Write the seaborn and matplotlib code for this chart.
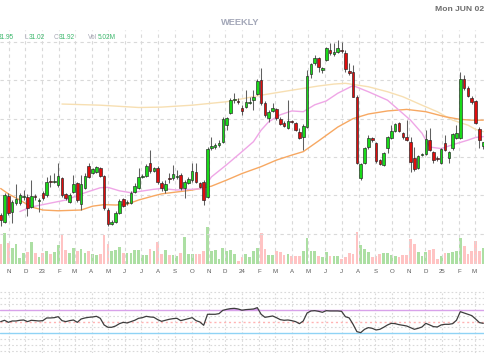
import numpy as np
import pandas as pd
import matplotlib
matplotlib.use("Agg")
import matplotlib.pyplot as plt
import seaborn as sns

# ---------------- data ----------------
start_date = pd.Timestamp("2022-10-17")  # first weekly candle (Monday)

opens = [22.45, 21.58, 24.92, 22.88, 24.05, 23.96, 24.83, 24.83, 23.53, 24.88,
         24.22, 25.35, 25.05, 26.83, 26.74, 26.31, 27.26, 25.14, 24.18, 25.48,
         26.57, 23.88, 26.00, 28.83, 27.96, 28.09, 28.52, 27.52, 23.10, 21.23,
         21.53, 22.75, 24.49, 24.01, 24.05, 25.40, 26.00, 27.44, 27.52, 29.26,
         28.22, 28.61, 26.66, 25.70, 27.31, 27.31, 27.39, 27.65, 25.92, 26.66,
         27.00, 28.00, 26.57, 26.79, 24.83, 31.13, 31.26, 31.52, 31.99, 34.16,
         35.77, 37.38, 37.24, 36.42, 36.55, 37.03, 37.42, 38.16, 40.02, 37.07,
         35.03, 35.99, 36.20, 34.94, 34.47, 33.73, 34.64, 34.38, 33.30, 32.64,
         33.95, 40.76, 42.19, 42.84, 41.32, 42.63, 43.93, 43.41, 43.67, 43.89,
         43.58, 41.19, 41.11, 37.85, 27.22, 29.26, 31.26, 32.43, 31.78, 29.61,
         28.96, 31.13, 32.43, 33.43, 34.38, 33.08, 32.64, 31.99, 29.82, 28.61,
         30.26, 30.39, 32.21, 30.60, 29.91, 29.26, 31.78, 29.82, 31.13, 32.43,
         32.43, 40.11, 39.02, 37.72, 37.29, 33.60, 31.50]
highs = [22.66, 25.35, 25.27, 24.40, 26.48, 25.27, 25.70, 25.18, 27.00, 25.18,
         24.62, 25.61, 27.44, 27.65, 27.87, 29.26, 27.44, 25.35, 25.27, 27.65,
         26.79, 27.65, 27.87, 29.26, 28.56, 28.83, 28.74, 27.65, 23.31, 21.79,
         23.01, 24.49, 24.66, 24.40, 25.61, 26.57, 28.52, 27.78, 29.09, 30.91,
         28.74, 28.83, 26.83, 27.00, 27.87, 28.96, 28.30, 27.87, 27.00, 27.35,
         29.17, 29.17, 26.79, 27.00, 31.26, 32.64, 31.78, 32.21, 35.16, 35.25,
         37.64, 38.29, 37.64, 36.77, 38.72, 37.85, 38.72, 40.11, 41.54, 37.33,
         36.12, 36.98, 36.42, 35.16, 34.64, 37.42, 34.81, 34.55, 33.73, 34.29,
         41.32, 42.28, 43.28, 42.97, 41.76, 44.36, 44.84, 44.84, 45.23, 45.01,
         43.93, 42.19, 41.98, 38.07, 29.17, 31.34, 32.86, 32.64, 31.99, 29.78,
         30.65, 32.73, 34.16, 34.38, 34.60, 33.30, 34.81, 32.64, 31.34, 30.30,
         30.56, 33.51, 33.73, 30.82, 30.13, 31.17, 32.86, 30.82, 33.17, 34.16,
         41.11, 40.67, 39.24, 37.94, 37.42, 33.95, 31.95]
lows = [21.01, 21.36, 22.45, 21.36, 23.75, 23.75, 24.40, 22.32, 23.31, 24.40,
        22.88, 24.40, 24.83, 26.13, 26.57, 26.13, 24.83, 24.40, 23.96, 25.27,
        24.18, 23.10, 25.79, 27.26, 27.78, 27.87, 27.35, 23.10, 21.01, 21.10,
        21.36, 22.58, 23.53, 23.75, 23.88, 25.27, 25.87, 27.26, 27.35, 27.96,
        28.04, 26.48, 25.61, 25.27, 26.57, 27.00, 27.18, 25.70, 24.62, 26.48,
        26.79, 26.57, 25.92, 23.75, 24.62, 30.91, 31.08, 31.34, 31.86, 33.51,
        35.60, 36.98, 36.90, 35.47, 36.33, 36.90, 36.12, 38.03, 36.77, 35.25,
        34.60, 35.86, 34.81, 34.12, 33.86, 33.60, 34.38, 33.34, 32.30, 30.91,
        33.77, 40.24, 41.98, 41.11, 40.89, 42.45, 43.28, 43.15, 43.49, 43.49,
        41.11, 40.67, 37.77, 29.09, 27.00, 29.09, 31.08, 31.95, 29.17, 28.96,
        28.83, 30.47, 32.30, 33.25, 33.25, 32.38, 32.04, 28.09, 28.22, 28.48,
        30.13, 30.21, 30.73, 29.17, 29.52, 29.09, 30.73, 29.26, 30.91, 32.30,
        32.30, 38.72, 37.77, 36.90, 34.29, 31.13, 31.02]
closes = [21.79, 25.05, 22.66, 24.18, 24.49, 25.05, 24.96, 23.31, 24.92, 24.75,
          24.40, 24.62, 26.79, 26.70, 26.87, 27.52, 25.01, 24.62, 25.05, 26.48,
          24.40, 26.48, 27.52, 27.44, 28.39, 28.65, 27.57, 23.31, 21.23, 21.58,
          22.75, 24.31, 23.66, 24.14, 25.35, 26.26, 27.44, 27.57, 28.83, 28.17,
          28.52, 26.79, 25.92, 26.48, 27.18, 27.74, 27.52, 25.92, 26.79, 27.09,
          28.17, 26.79, 26.13, 24.40, 31.00, 31.43, 31.56, 31.78, 34.90, 35.03,
          37.42, 37.51, 37.11, 36.03, 37.20, 37.20, 37.77, 39.89, 36.98, 35.47,
          35.90, 36.42, 35.03, 34.29, 34.03, 34.73, 34.51, 33.51, 32.43, 34.03,
          40.54, 42.06, 42.84, 41.76, 41.54, 44.15, 43.54, 43.71, 44.19, 43.75,
          41.41, 40.89, 37.85, 29.17, 29.04, 31.13, 32.43, 32.21, 29.52, 29.09,
          30.47, 32.56, 33.43, 34.25, 33.43, 32.56, 32.21, 29.30, 28.39, 30.13,
          30.39, 32.30, 30.91, 29.61, 29.78, 31.00, 30.91, 30.60, 32.95, 33.08,
          40.11, 38.94, 37.94, 37.11, 34.47, 32.21, 31.92]
volumes_m = [6.0, 9.3, 6.3, 4.8, 6.0, 1.8, 3.2, 3.6, 6.6, 3.2,
             2.0, 3.2, 3.9, 3.1, 3.7, 5.7, 8.8, 4.1, 3.4, 4.9,
             3.8, 4.5, 3.2, 4.0, 2.9, 2.7, 2.9, 8.8, 6.1, 4.0,
             4.1, 5.1, 3.4, 3.4, 3.2, 4.2, 4.2, 2.7, 2.8, 4.4,
             3.8, 6.5, 3.1, 4.2, 2.8, 2.7, 2.5, 3.4, 8.0, 2.9,
             2.9, 3.0, 3.0, 3.9, 11.0, 4.0, 4.2, 1.6, 4.7, 3.9,
             4.3, 3.1, 1.0, 2.0, 2.9, 2.0, 4.0, 4.9, 9.3, 4.6,
             2.6, 2.7, 4.0, 3.5, 2.7, 3.1, 2.5, 2.5, 2.5, 3.8,
             7.7, 4.0, 4.0, 2.5, 2.1, 3.5, 2.3, 2.5, 2.5, 1.5,
             2.2, 3.3, 3.0, 9.6, 5.8, 4.6, 3.6, 2.1, 2.3, 3.0,
             3.2, 3.2, 2.8, 2.5, 2.0, 2.6, 2.6, 7.6, 6.0, 3.7,
             2.5, 3.7, 4.1, 4.4, 1.5, 2.5, 3.2, 3.4, 3.6, 3.9,
             7.9, 5.5, 2.9, 3.8, 6.8, 3.8, 4.9]
rsi_values = [50.0, 52.3, 48.8, 51.1, 51.1, 52.3, 52.8, 50.0, 52.3, 51.7,
              51.1, 51.7, 56.3, 56.3, 56.8, 58.5, 51.7, 50.0, 51.7, 52.8,
              48.8, 54.5, 56.3, 57.4, 58.0, 59.1, 55.7, 44.3, 40.3, 40.3,
              42.5, 46.5, 48.8, 47.7, 50.0, 52.3, 55.7, 56.8, 59.1, 58.0,
              57.4, 53.4, 50.5, 52.3, 54.0, 55.1, 55.7, 51.7, 53.4, 55.1,
              56.8, 51.7, 49.4, 43.7, 62.6, 62.6, 62.6, 63.7, 69.4, 71.1,
              72.3, 72.8, 71.7, 69.6, 70.6, 71.1, 71.7, 74.0, 62.6, 57.4,
              58.5, 59.7, 56.8, 53.4, 52.3, 52.8, 51.7, 50.0, 46.5, 51.1,
              64.8, 68.3, 68.8, 67.7, 66.0, 68.8, 68.3, 68.3, 68.3, 67.7,
              58.5, 56.3, 45.4, 32.8, 31.1, 36.8, 39.7, 38.5, 35.7, 36.8,
              40.3, 44.3, 47.1, 46.5, 44.8, 43.7, 42.5, 39.7, 36.8, 38.5,
              40.8, 47.1, 44.3, 41.4, 40.8, 44.3, 45.4, 45.4, 46.5, 52.3,
              67.1, 64.8, 62.6, 60.3, 54.5, 48.3, 47.1]

ma_short_idx = [5, 8, 12, 17, 22, 26, 28, 31, 34, 36, 40, 42, 46, 50, 53, 55, 59,
                63, 66, 68, 70, 73, 76, 79, 82, 85, 88, 92, 96, 101, 104, 107,
                110, 112, 115, 118, 122, 124, 126]
ma_short = [22.9, 23.5, 23.9, 24.4, 25.35, 26.0, 26.05, 25.6, 25.35, 25.5, 25.8,
            25.9, 25.7, 25.8, 25.9, 27.4, 29.0, 30.7, 32.0, 33.5, 34.6, 35.5,
            36.0, 35.9, 36.8, 37.3, 38.3, 39.3, 38.5, 37.4, 36.1, 34.8, 33.1,
            31.3, 31.1, 31.6, 32.2, 32.55, 32.65]
ma_mid_idx = [0, 2, 5, 8, 11, 15, 21, 24, 27, 30, 33, 36, 40, 42, 46, 50, 55, 59,
              63, 68, 72, 76, 79, 83, 88, 92, 96, 101, 106, 111, 116, 120, 123, 126]
ma_mid = [25.9, 25.2, 24.4, 23.5, 23.1, 23.0, 23.1, 23.6, 23.8, 23.75, 23.85,
          24.4, 24.95, 25.2, 25.45, 25.7, 26.2, 27.0, 27.85, 28.75, 29.6, 30.25,
          30.7, 32.1, 33.9, 35.0, 35.6, 36.0, 36.2, 35.9, 35.25, 34.9, 34.8, 34.8]
ma_long_idx = [16, 26, 36, 42, 50, 59, 68, 76, 83, 87, 90, 96, 101, 105, 110,
               114, 118, 122, 124, 126]
ma_long = [36.9, 36.75, 36.45, 36.5, 36.75, 37.2, 38.05, 38.7, 39.25, 39.5,
           39.6, 39.15, 38.5, 37.85, 36.75, 35.9, 34.8, 34.15, 33.6, 33.3]

month_labels = ["N", "D", "23", "F", "M", "A", "M", "J", "J", "A", "S", "O",
                "N", "D", "24", "F", "M", "A", "M", "J", "J", "A", "S", "O",
                "N", "D", "25", "F", "M"]
month_starts = pd.date_range("2022-11-01", "2025-03-01", freq="MS")

header_labels = ["H", "L", "C", "Vol"]
header_values = ["31.95", "31.02", "31.92", "5.02M"]
title_text = "WEEKLY"
date_text = "Mon JUN 02"

# ---------------- style ----------------
sns.set_style("white")
plt.rcParams["font.family"] = ["Liberation Sans", "DejaVu Sans"]

W, H = 485, 360
fig = plt.figure(figsize=(W / 100, H / 100), dpi=100)

def frac_rect(x0, y_top, x1, y_bot):
    return [x0 / W, 1 - y_bot / H, (x1 - x0) / W, (y_bot - y_top) / H]

n = len(closes)
x = np.arange(n)
xlim = (-0.18, 126.45)
tick_pos = [(d - start_date).days / 7 for d in month_starts]

UP = "#19d919"
DOWN = "#e00d0d"
VUP = "#acdfa3"
VDOWN = "#ffc3c3"
GRID = "#d9d9d9"

# ---------------- price + volume ----------------
ax = fig.add_axes(frac_rect(0, 30, W, 264))
axv = ax.twinx()
ax.set_zorder(axv.get_zorder() + 1)
ax.patch.set_visible(False)

o = np.array(opens); c = np.array(closes)
hi = np.array(highs); lo = np.array(lows)
up = c >= o
vcols = [VUP if u else VDOWN for u in up]
axv.bar(x, volumes_m, width=0.72, color=vcols, linewidth=0)
axv.set_ylim(0, 234 / 3.333)
axv.set_xlim(*xlim)
axv.axis("off")

for val in range(20, 50, 5):
    ax.axhline(val, color=GRID, lw=0.8, ls=(0, (3, 3)), zorder=0)
for tp in tick_pos:
    ax.axvline(tp, color=GRID, lw=0.8, ls=(0, (3, 3)), zorder=0)

sns.lineplot(x=ma_long_idx, y=ma_long, ax=ax, color="#f7dfb2", lw=1.0,
             estimator=None, sort=False, legend=False, zorder=2)
sns.lineplot(x=ma_mid_idx, y=ma_mid, ax=ax, color="#f7a862", lw=1.0,
             estimator=None, sort=False, legend=False, zorder=2)
sns.lineplot(x=ma_short_idx, y=ma_short, ax=ax, color="#efa6e6", lw=1.0,
             estimator=None, sort=False, legend=False, zorder=2)

ax.vlines(x, lo, hi, color="#606060", lw=0.75, zorder=3)
body_lo = np.minimum(o, c)
body_h = np.abs(c - o)
ax.bar(x, body_h, bottom=body_lo, width=0.68,
       color=[UP if u else DOWN for u in up], edgecolor="#222222",
       linewidth=0.45, zorder=4)

ax.set_xlim(*xlim)
ax.set_ylim(16.07, 46.54)
ax.set_yticks([])
ax.set_xticks(tick_pos)
ax.set_xticklabels(month_labels)
ax.tick_params(axis="x", length=0, pad=3.4, labelsize=4.4, colors="#5a5a5a")
ax.set_xlabel(""); ax.set_ylabel("")
for s in ax.spines.values():
    s.set_visible(False)

# ---------------- RSI ----------------
axr = fig.add_axes(frac_rect(0, 290.75, W, 352.5))
axr.set_xlim(*xlim)
axr.set_ylim(-3, 103)
for val in range(0, 101, 10):
    if val in (30, 50, 70):
        continue
    axr.axhline(val, color=GRID, lw=0.8, ls=(0, (1.5, 2)), zorder=0)
for tp in tick_pos:
    axr.axvline(tp, color=GRID, lw=0.8, ls=(0, (1.5, 2)), zorder=0)
axr.axhline(70, color="#d8a2ea", lw=1.0, zorder=1)
axr.axhline(30, color="#8fd3f5", lw=1.0, zorder=1)
axr.axhline(50, color="#ffb3b3", lw=1.0, ls=(0, (1.5, 2)), zorder=1)
rv = np.array(rsi_values)
axr.fill_between(x, rv, 70, where=rv > 70, interpolate=True,
                 color="#d59be8", lw=0, zorder=2)
sns.lineplot(x=x, y=rv, ax=axr, color="#3d3d3d", lw=0.9,
             estimator=None, sort=False, legend=False, zorder=3)
axr.set_xticks([]); axr.set_yticks([])
axr.set_xlabel(""); axr.set_ylabel("")
for s in axr.spines.values():
    s.set_visible(False)

# ---------------- texts ----------------
def ftext(px, py, s, **kw):
    fig.text(px / W, 1 - py / H, s, **kw)

hdr_kw = dict(va="center", fontsize=4.7)
lab_col = "#a7a7b5"
val_col = "#3cb86c"
# header is scrolled so that its first item is partly off the left edge,
# exactly as in the reference
ftext(-2.6, 37.5, header_labels[0], ha="right", color=lab_col, **hdr_kw)
ftext(14.0, 37.5, header_values[0], ha="right", color=val_col, **hdr_kw)
ftext(25.0, 37.5, header_labels[1], ha="left", color=lab_col, **hdr_kw)
ftext(28.6, 37.5, header_values[1], ha="left", color=val_col, **hdr_kw)
ftext(54.0, 37.5, header_labels[2], ha="left", color=lab_col, **hdr_kw)
ftext(59.0, 37.5, header_values[2], ha="left", color=val_col, **hdr_kw)
ftext(88.0, 37.5, header_labels[3], ha="left", color=lab_col, **hdr_kw)
ftext(97.3, 37.5, header_values[3], ha="left", color=val_col, **hdr_kw)

ftext(240.5, 22.7, title_text, ha="center", va="center", fontsize=6.7,
      fontweight="bold", color="#a3a7b8")
ftext(484.5, 9.3, date_text, ha="right", va="center", fontsize=6.1,
      fontweight="bold", color="#6e6e6e")

fig.savefig("out.png", dpi=100)
